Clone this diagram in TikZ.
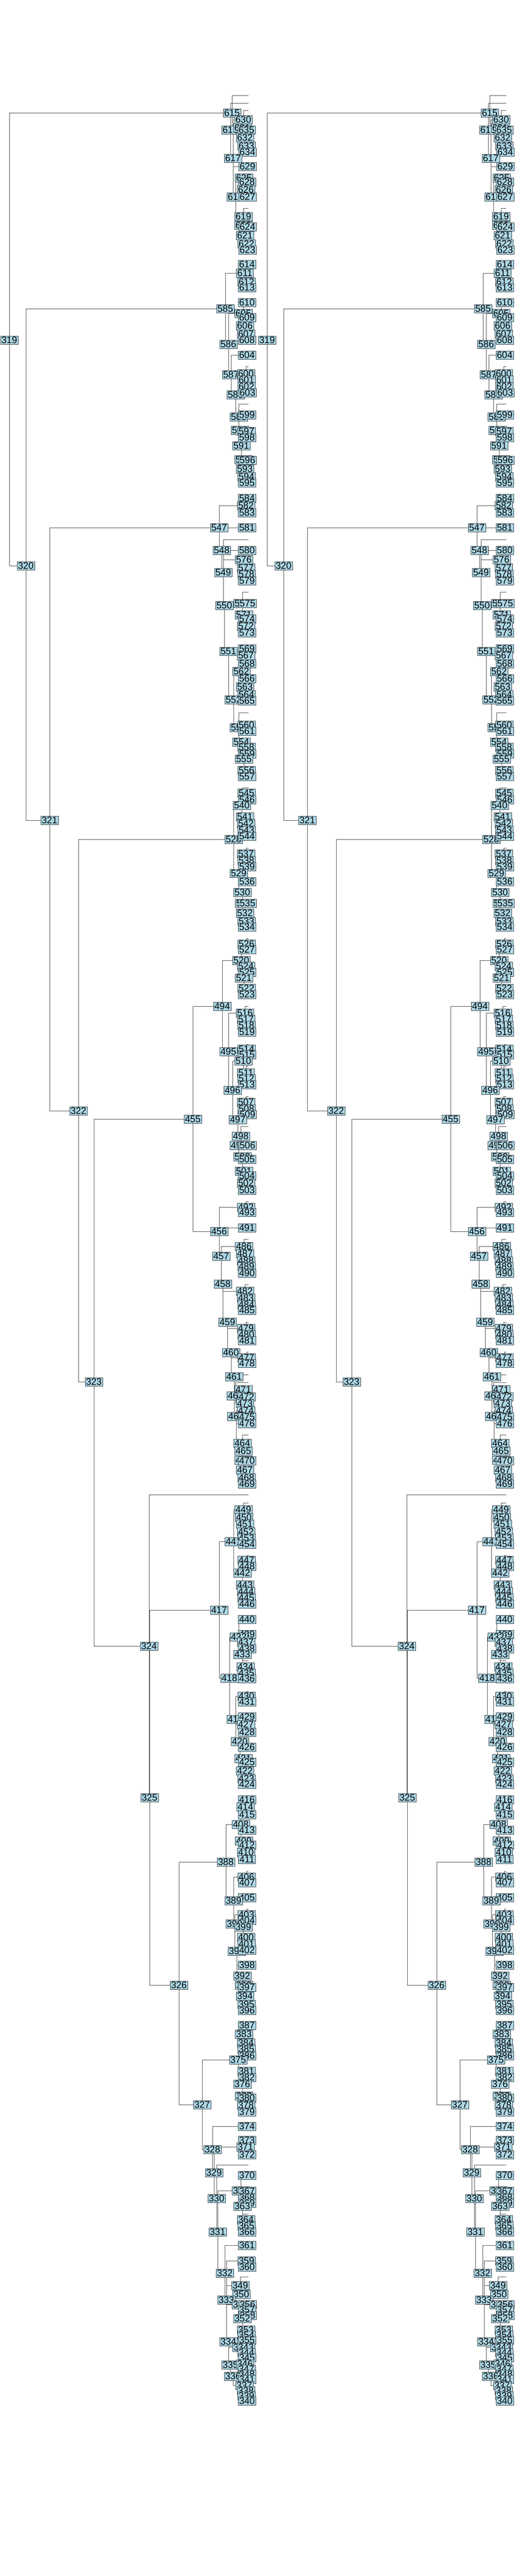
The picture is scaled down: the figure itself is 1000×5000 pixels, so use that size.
\documentclass[tikz,border=0pt]{standalone}
\usepackage{fontspec}
\setmainfont{Liberation Sans}
\usepackage{tikz}
\definecolor{boxblue}{RGB}{173,216,230}
\definecolor{boxline}{RGB}{62,72,78}
\definecolor{linegray}{RGB}{88,88,88}
\tikzstyle{num}=[rectangle,draw=boxline,fill=boxblue,line width=0.8pt,
inner xsep=2.5pt,inner ysep=2pt,text height=19pt,text depth=0pt,
font=\fontsize{26}{26}\selectfont]
\tikzstyle{link}=[draw=linegray,line width=1.3pt,
to path={(\tikztostart) |- (\tikztotarget)}]
\pgfdeclarelayer{bg}
\pgfsetlayers{bg,main}

\newcommand{\treepart}[1]{%
            % SPINE PART
            \node[num] (#1319) at (18,660) {319};
            \node[num] (#1320) at (50,1098) {320};
            \node[num] (#1321) at (96,1592) {321};
            \node[num] (#1322) at (152,2156) {322};
            \node[num] (#1323) at (182,2682) {323};
            \node[num] (#1324) at (289,3195) {324};
            \node[num] (#1325) at (290,3489) {325};
            \node[num] (#1326) at (347,3853) {326};
            \node[num] (#1327) at (392,4085) {327};

            % 615 PART
            \coordinate (#1c01) at (482,185);
            \coordinate (#1c02) at (482,200);
            \coordinate (#1c03) at (482,214);
            \coordinate (#1c04) at (482,404);
            \node[num] (#1615) at (450,219) {615};
            \node[num] (#1616) at (447,252) {616};
            \node[num] (#1630) at (472,232) {630};
            \node[num] (#1631) at (470,248) {631};
            \node[num] (#1635) at (478,252) {635};
            \node[num] (#1632) at (475,267) {632};
            \node[num] (#1633) at (478,283) {633};
            \node[num] (#1634) at (480,295) {634};
            \node[num] (#1617) at (452,307) {617};
            \node[num] (#1629) at (480,323) {629};
            \node[num] (#1625) at (473,345) {625};
            \node[num] (#1628) at (479,353) {628};
            \node[num] (#1626) at (477,368) {626};
            \node[num] (#1618) at (457,382) {618};
            \node[num] (#1627) at (480,382) {627};
            \node[num] (#1619) at (472,420) {619};
            \node[num] (#1620) at (472,437) {620};
            \node[num] (#1624) at (480,440) {624};
            \node[num] (#1621) at (475,457) {621};
            \node[num] (#1622) at (478,473) {622};
            \node[num] (#1623) at (480,485) {623};

            % 585 PART
            \coordinate (#1c05) at (482,711);
            \coordinate (#1c06) at (482,784);
            \node[num] (#1614) at (479,513) {614};
            \node[num] (#1611) at (475,530) {611};
            \node[num] (#1612) at (478,547) {612};
            \node[num] (#1613) at (479,558) {613};
            \node[num] (#1610) at (479,587) {610};
            \node[num] (#1585) at (437,599) {585};
            \node[num] (#1605) at (472,608) {605};
            \node[num] (#1609) at (479,616) {609};
            \node[num] (#1606) at (475,632) {606};
            \node[num] (#1607) at (477,648) {607};
            \node[num] (#1608) at (479,660) {608};
            \node[num] (#1586) at (443,668) {586};
            \node[num] (#1604) at (479,689) {604};
            \node[num] (#1587) at (448,727) {587};
            \node[num] (#1600) at (477,725) {600};
            \node[num] (#1601) at (478,737) {601};
            \node[num] (#1602) at (478,750) {602};
            \node[num] (#1588) at (457,766) {588};
            \node[num] (#1603) at (480,762) {603};
            \node[num] (#1589) at (463,809) {589};
            \node[num] (#1599) at (479,805) {599};
            \node[num] (#1590) at (465,835) {590};
            \node[num] (#1597) at (478,837) {597};
            \node[num] (#1598) at (479,849) {598};
            \node[num] (#1591) at (468,865) {591};
            \node[num] (#1592) at (472,892) {592};
            \node[num] (#1596) at (480,893) {596};
            \node[num] (#1593) at (475,910) {593};
            \node[num] (#1594) at (478,925) {594};
            \node[num] (#1595) at (479,937) {595};

            % 547 PART
            \coordinate (#1c07) at (482,1047);
            \coordinate (#1c08) at (482,1149);
            \coordinate (#1c09) at (482,1383);
            \node[num] (#1584) at (479,967) {584};
            \node[num] (#1582) at (477,981) {582};
            \node[num] (#1583) at (479,995) {583};
            \node[num] (#1547) at (425,1024) {547};
            \node[num] (#1581) at (479,1024) {581};
            \node[num] (#1548) at (430,1068) {548};
            \node[num] (#1580) at (479,1068) {580};
            \node[num] (#1576) at (473,1086) {576};
            \node[num] (#1577) at (477,1102) {577};
            \node[num] (#1549) at (433,1111) {549};
            \node[num] (#1578) at (478,1114) {578};
            \node[num] (#1579) at (479,1127) {579};
            \node[num] (#1550) at (435,1175) {550};
            \node[num] (#1570) at (470,1171) {570};
            \node[num] (#1575) at (480,1171) {575};
            \node[num] (#1571) at (473,1193) {571};
            \node[num] (#1574) at (479,1201) {574};
            \node[num] (#1572) at (477,1215) {572};
            \node[num] (#1573) at (479,1228) {573};
            \node[num] (#1569) at (479,1259) {569};
            \node[num] (#1551) at (443,1264) {551};
            \node[num] (#1567) at (477,1272) {567};
            \node[num] (#1568) at (479,1288) {568};
            \node[num] (#1562) at (468,1303) {562};
            \node[num] (#1566) at (479,1317) {566};
            \node[num] (#1563) at (475,1333) {563};
            \node[num] (#1564) at (478,1348) {564};
            \node[num] (#1552) at (453,1358) {552};
            \node[num] (#1565) at (479,1360) {565};
            \node[num] (#1553) at (463,1412) {553};
            \node[num] (#1560) at (478,1407) {560};
            \node[num] (#1561) at (479,1419) {561};
            \node[num] (#1554) at (468,1440) {554};
            \node[num] (#1558) at (478,1450) {558};
            \node[num] (#1559) at (479,1463) {559};
            \node[num] (#1555) at (473,1473) {555};
            \node[num] (#1556) at (478,1495) {556};
            \node[num] (#1557) at (479,1507) {557};

            % 528 PART
            \coordinate (#1c10) at (482,1529);
            \coordinate (#1c11) at (482,1646);
            \node[num] (#1545) at (478,1539) {545};
            \node[num] (#1546) at (479,1552) {546};
            \node[num] (#1540) at (469,1563) {540};
            \node[num] (#1541) at (475,1585) {541};
            \node[num] (#1542) at (477,1598) {542};
            \node[num] (#1543) at (478,1611) {543};
            \node[num] (#1528) at (453,1629) {528};
            \node[num] (#1544) at (479,1623) {544};
            \node[num] (#1537) at (477,1657) {537};
            \node[num] (#1538) at (478,1670) {538};
            \node[num] (#1539) at (479,1682) {539};
            \node[num] (#1529) at (463,1695) {529};
            \node[num] (#1536) at (479,1711) {536};
            \node[num] (#1530) at (470,1732) {530};
            \node[num] (#1531) at (473,1753) {531};
            \node[num] (#1535) at (480,1753) {535};
            \node[num] (#1532) at (475,1772) {532};
            \node[num] (#1533) at (478,1788) {533};
            \node[num] (#1534) at (479,1799) {534};

            % 455 PART
            \coordinate (#1c12) at (482,1821);
            \coordinate (#1c13) at (482,1953);
            \coordinate (#1c14) at (482,2027);
            \coordinate (#1c15) at (482,2069);
            \coordinate (#1c16) at (482,2128);
            \coordinate (#1c17) at (482,2186);
            \node[num] (#1526) at (478,1832) {526};
            \node[num] (#1527) at (479,1843) {527};
            \node[num] (#1520) at (468,1864) {520};
            \node[num] (#1524) at (477,1875) {524};
            \node[num] (#1525) at (479,1887) {525};
            \node[num] (#1521) at (473,1898) {521};
            \node[num] (#1522) at (478,1918) {522};
            \node[num] (#1523) at (479,1930) {523};
            \node[num] (#1494) at (431,1953) {494};
            \node[num] (#1516) at (475,1966) {516};
            \node[num] (#1517) at (477,1978) {517};
            \node[num] (#1518) at (478,1990) {518};
            \node[num] (#1519) at (479,2003) {519};
            \node[num] (#1495) at (443,2041) {495};
            \node[num] (#1514) at (478,2036) {514};
            \node[num] (#1515) at (479,2047) {515};
            \node[num] (#1510) at (472,2059) {510};
            \node[num] (#1511) at (477,2082) {511};
            \node[num] (#1512) at (478,2093) {512};
            \node[num] (#1513) at (479,2105) {513};
            \node[num] (#1496) at (451,2116) {496};
            \node[num] (#1507) at (477,2139) {507};
            \node[num] (#1508) at (478,2152) {508};
            \node[num] (#1509) at (480,2163) {509};
            \node[num] (#1455) at (374,2172) {455};
            \node[num] (#1497) at (461,2173) {497};
            \node[num] (#1498) at (467,2205) {498};
            \node[num] (#1499) at (463,2223) {499};
            \node[num] (#1506) at (480,2223) {506};
            \node[num] (#1500) at (470,2245) {500};
            \node[num] (#1505) at (479,2250) {505};
            \node[num] (#1501) at (473,2273) {501};
            \node[num] (#1504) at (479,2282) {504};
            \node[num] (#1502) at (477,2296) {502};
            \node[num] (#1503) at (479,2310) {503};

            % 456 PART
            \coordinate (#1c18) at (482,2332);
            \coordinate (#1c19) at (482,2405);
            \coordinate (#1c20) at (482,2493);
            \coordinate (#1c21) at (482,2566);
            \coordinate (#1c22) at (482,2624);
            \coordinate (#1c23) at (482,2668);
            \coordinate (#1c24) at (482,2683);
            \coordinate (#1c25) at (482,2785);
            \node[num] (#1492) at (477,2343) {492};
            \node[num] (#1493) at (479,2353) {493};
            \node[num] (#1491) at (479,2383) {491};
            \node[num] (#1456) at (425,2390) {456};
            \node[num] (#1486) at (473,2419) {486};
            \node[num] (#1487) at (475,2433) {487};
            \node[num] (#1457) at (429,2438) {457};
            \node[num] (#1488) at (477,2447) {488};
            \node[num] (#1489) at (478,2458) {489};
            \node[num] (#1490) at (479,2471) {490};
            \node[num] (#1458) at (432,2492) {458};
            \node[num] (#1482) at (475,2506) {482};
            \node[num] (#1483) at (477,2519) {483};
            \node[num] (#1484) at (478,2532) {484};
            \node[num] (#1485) at (479,2543) {485};
            \node[num] (#1459) at (441,2566) {459};
            \node[num] (#1479) at (477,2578) {479};
            \node[num] (#1480) at (478,2590) {480};
            \node[num] (#1481) at (479,2602) {481};
            \node[num] (#1460) at (448,2625) {460};
            \node[num] (#1477) at (478,2635) {477};
            \node[num] (#1478) at (479,2646) {478};
            \node[num] (#1461) at (454,2672) {461};
            \node[num] (#1471) at (472,2697) {471};
            \node[num] (#1462) at (457,2709) {462};
            \node[num] (#1472) at (478,2711) {472};
            \node[num] (#1473) at (475,2724) {473};
            \node[num] (#1474) at (477,2738) {474};
            \node[num] (#1463) at (458,2749) {463};
            \node[num] (#1475) at (479,2750) {475};
            \node[num] (#1476) at (479,2763) {476};
            \node[num] (#1464) at (470,2801) {464};
            \node[num] (#1465) at (472,2816) {465};
            \node[num] (#1466) at (472,2834) {466};
            \node[num] (#1470) at (479,2835) {470};
            \node[num] (#1467) at (475,2853) {467};
            \node[num] (#1468) at (478,2868) {468};
            \node[num] (#1469) at (479,2880) {469};

            % 417 PART
            \coordinate (#1c26) at (482,2901);
            \coordinate (#1c27) at (482,2917);
            \coordinate (#1c28) at (482,3019);
            \coordinate (#1c29) at (482,3223);
            \coordinate (#1c30) at (482,3283);
            \node[num] (#1449) at (472,2930) {449};
            \node[num] (#1450) at (473,2945) {450};
            \node[num] (#1451) at (475,2958) {451};
            \node[num] (#1452) at (477,2973) {452};
            \node[num] (#1453) at (478,2985) {453};
            \node[num] (#1441) at (453,2992) {441};
            \node[num] (#1454) at (479,2997) {454};
            \node[num] (#1447) at (478,3028) {447};
            \node[num] (#1448) at (479,3040) {448};
            \node[num] (#1442) at (470,3053) {442};
            \node[num] (#1443) at (475,3076) {443};
            \node[num] (#1444) at (477,3089) {444};
            \node[num] (#1445) at (478,3101) {445};
            \node[num] (#1446) at (479,3113) {446};
            \node[num] (#1417) at (425,3125) {417};
            \node[num] (#1440) at (479,3143) {440};
            \node[num] (#1439) at (479,3172) {439};
            \node[num] (#1432) at (463,3177) {432};
            \node[num] (#1437) at (477,3187) {437};
            \node[num] (#1438) at (479,3200) {438};
            \node[num] (#1433) at (470,3211) {433};
            \node[num] (#1434) at (476,3235) {434};
            \node[num] (#1435) at (478,3247) {435};
            \node[num] (#1418) at (445,3257) {418};
            \node[num] (#1436) at (479,3258) {436};
            \node[num] (#1430) at (478,3292) {430};
            \node[num] (#1431) at (479,3303) {431};
            \node[num] (#1419) at (457,3337) {419};
            \node[num] (#1429) at (479,3332) {429};
            \node[num] (#1427) at (477,3347) {427};
            \node[num] (#1428) at (479,3362) {428};
            \node[num] (#1420) at (465,3380) {420};
            \node[num] (#1426) at (479,3391) {426};
            \node[num] (#1421) at (472,3413) {421};
            \node[num] (#1425) at (479,3420) {425};
            \node[num] (#1422) at (475,3437) {422};
            \node[num] (#1423) at (478,3452) {423};
            \node[num] (#1424) at (479,3463) {424};

            % 388 PART
            \coordinate (#1c31) at (482,3632);
            \coordinate (#1c32) at (482,3705);
            \node[num] (#1416) at (479,3493) {416};
            \node[num] (#1414) at (476,3507) {414};
            \node[num] (#1415) at (479,3522) {415};
            \node[num] (#1408) at (467,3541) {408};
            \node[num] (#1413) at (479,3552) {413};
            \node[num] (#1409) at (473,3573) {409};
            \node[num] (#1412) at (479,3581) {412};
            \node[num] (#1410) at (477,3595) {410};
            \node[num] (#1411) at (479,3609) {411};
            \node[num] (#1388) at (438,3614) {388};
            \node[num] (#1406) at (478,3643) {406};
            \node[num] (#1407) at (479,3654) {407};
            \node[num] (#1405) at (479,3683) {405};
            \node[num] (#1389) at (453,3689) {389};
            \node[num] (#1403) at (478,3716) {403};
            \node[num] (#1404) at (479,3727) {404};
            \node[num] (#1390) at (455,3734) {390};
            \node[num] (#1399) at (472,3740) {399};
            \node[num] (#1400) at (477,3760) {400};
            \node[num] (#1401) at (478,3773) {401};
            \node[num] (#1391) at (459,3787) {391};
            \node[num] (#1402) at (479,3785) {402};
            \node[num] (#1398) at (479,3814) {398};
            \node[num] (#1392) at (470,3835) {392};
            \node[num] (#1393) at (473,3853) {393};
            \node[num] (#1397) at (479,3857) {397};
            \node[num] (#1394) at (475,3874) {394};
            \node[num] (#1395) at (478,3890) {395};
            \node[num] (#1396) at (479,3902) {396};

            % 375 PART
            \coordinate (#1c33) at (482,4012);
            \node[num] (#1387) at (479,3931) {387};
            \node[num] (#1383) at (473,3948) {383};
            \node[num] (#1384) at (477,3965) {384};
            \node[num] (#1385) at (478,3977) {385};
            \node[num] (#1386) at (479,3990) {386};
            \node[num] (#1375) at (462,3998) {375};
            \node[num] (#1381) at (478,4020) {381};
            \node[num] (#1382) at (479,4032) {382};
            \node[num] (#1376) at (470,4045) {376};
            \node[num] (#1377) at (473,4068) {377};
            \node[num] (#1380) at (479,4072) {380};
            \node[num] (#1378) at (477,4086) {378};
            \node[num] (#1379) at (479,4099) {379};

            % 328 PART
            \coordinate (#1c34) at (482,4202);
            \coordinate (#1c35) at (482,4297);
            \coordinate (#1c36) at (482,4419);
            \coordinate (#1c37) at (482,4516);
            \coordinate (#1c38) at (482,4546);
            \node[num] (#1374) at (479,4127) {374};
            \node[num] (#1373) at (479,4154) {373};
            \node[num] (#1371) at (476,4167) {371};
            \node[num] (#1328) at (412,4172) {328};
            \node[num] (#1372) at (479,4182) {372};
            \node[num] (#1329) at (415,4217) {329};
            \node[num] (#1370) at (479,4222) {370};
            \node[num] (#1362) at (467,4252) {362};
            \node[num] (#1367) at (479,4253) {367};
            \node[num] (#1330) at (420,4267) {330};
            \node[num] (#1368) at (479,4265) {368};
            \node[num] (#1369) at (479,4276) {369};
            \node[num] (#1363) at (470,4282) {363};
            \node[num] (#1364) at (477,4308) {364};
            \node[num] (#1365) at (478,4320) {365};
            \node[num] (#1331) at (422,4332) {331};
            \node[num] (#1366) at (479,4332) {366};
            \node[num] (#1361) at (479,4358) {361};
            \node[num] (#1359) at (478,4388) {359};
            \node[num] (#1360) at (479,4400) {360};
            \node[num] (#1332) at (436,4412) {332};
            \node[num] (#1349) at (466,4436) {349};
            \node[num] (#1350) at (468,4453) {350};
            \node[num] (#1333) at (439,4464) {333};
            \node[num] (#1351) at (467,4473) {351};
            \node[num] (#1356) at (480,4473) {356};
            \node[num] (#1357) at (479,4483) {357};
            \node[num] (#1358) at (480,4494) {358};
            \node[num] (#1352) at (470,4500) {352};
            \node[num] (#1353) at (477,4522) {353};
            \node[num] (#1354) at (478,4532) {354};
            \node[num] (#1355) at (479,4542) {355};
            \node[num] (#1334) at (443,4545) {334};
            \node[num] (#1342) at (468,4556) {342};
            \node[num] (#1343) at (477,4556) {343};
            \node[num] (#1344) at (478,4566) {344};
            \node[num] (#1345) at (479,4576) {345};
            \node[num] (#1335) at (447,4590) {335};
            \node[num] (#1346) at (475,4588) {346};
            \node[num] (#1347) at (478,4598) {347};
            \node[num] (#1348) at (479,4608) {348};
            \node[num] (#1336) at (452,4612) {336};
            \node[num] (#1341) at (479,4618) {341};
            \node[num] (#1337) at (474,4630) {337};
            \node[num] (#1338) at (477,4640) {338};
            \node[num] (#1339) at (478,4650) {339};
            \node[num] (#1340) at (479,4660) {340};

            % Connections
            \begin{pgfonlayer}{bg}
            \path[link] (#1319) edge (#1615) edge (#1320);
            \path[link] (#1320) edge (#1585) edge (#1321);
            \path[link] (#1321) edge (#1547) edge (#1322);
            \path[link] (#1322) edge (#1528) edge (#1323);
            \path[link] (#1323) edge (#1455) edge (#1324);
            \path[link] (#1324) edge (#1c26) edge (#1325);
            \path[link] (#1325) edge (#1417) edge (#1326);
            \path[link] (#1326) edge (#1388) edge (#1327);
            \path[link] (#1327) edge (#1375) edge (#1328);

            \path[link] (#1615) edge (#1c01) edge (#1616);
            \path[link] (#1616) edge (#1c02) edge (#1617);
            \path[link] (#1630) edge (#1c03) edge (#1631);
            \path[link] (#1631) edge (#1635) edge (#1632);
            \path[link] (#1632) edge (#1633) edge (#1634);
            \path[link] (#1617) edge (#1630) edge (#1629) edge (#1618);
            \path[link] (#1625) edge (#1628) edge (#1626);
            \path[link] (#1626) edge (#1627);
            \path[link] (#1618) edge (#1625) edge (#1619);
            \path[link] (#1619) edge (#1c04) edge (#1620);
            \path[link] (#1620) edge (#1624) edge (#1621);
            \path[link] (#1621) edge (#1622) edge (#1623);

            \path[link] (#1585) edge (#1611) edge (#1586);
            \path[link] (#1611) edge (#1614) edge (#1612);
            \path[link] (#1612) edge (#1613);
            \path[link] (#1586) edge (#1605) edge (#1587);
            \path[link] (#1605) edge (#1610) edge (#1609) edge (#1606);
            \path[link] (#1606) edge (#1607) edge (#1608);
            \path[link] (#1587) edge (#1604) edge (#1600) edge (#1588);
            \path[link] (#1600) edge (#1c05) edge (#1601) edge (#1602);
            \path[link] (#1602) edge (#1603);
            \path[link] (#1588) edge (#1589);
            \path[link] (#1589) edge (#1c06) edge (#1599) edge (#1590);
            \path[link] (#1590) edge (#1597) edge (#1598) edge (#1591);
            \path[link] (#1591) edge (#1592);
            \path[link] (#1592) edge (#1596) edge (#1593);
            \path[link] (#1593) edge (#1594) edge (#1595);

            \path[link] (#1547) edge (#1582) edge (#1581) edge (#1548);
            \path[link] (#1582) edge (#1584) edge (#1583);
            \path[link] (#1548) edge (#1580) edge (#1549);
            \path[link] (#1549) edge (#1c07) edge (#1576) edge (#1550);
            \path[link] (#1576) edge (#1577) edge (#1578) edge (#1579);
            \path[link] (#1550) edge (#1570) edge (#1551);
            \path[link] (#1570) edge (#1c08) edge (#1575) edge (#1571);
            \path[link] (#1571) edge (#1574) edge (#1572);
            \path[link] (#1572) edge (#1573);
            \path[link] (#1551) edge (#1567) edge (#1552);
            \path[link] (#1567) edge (#1569) edge (#1568);
            \path[link] (#1552) edge (#1562) edge (#1553);
            \path[link] (#1562) edge (#1566) edge (#1563);
            \path[link] (#1563) edge (#1564) edge (#1565);
            \path[link] (#1553) edge (#1c09) edge (#1560) edge (#1554);
            \path[link] (#1560) edge (#1561);
            \path[link] (#1554) edge (#1558) edge (#1555);
            \path[link] (#1558) edge (#1559);
            \path[link] (#1555) edge (#1556) edge (#1557);

            \path[link] (#1528) edge (#1540) edge (#1529);
            \path[link] (#1540) edge (#1c10) edge (#1545) edge (#1541);
            \path[link] (#1545) edge (#1546);
            \path[link] (#1541) edge (#1542) edge (#1543) edge (#1544);
            \path[link] (#1529) edge (#1537) edge (#1536) edge (#1530);
            \path[link] (#1537) edge (#1c11) edge (#1538) edge (#1539);
            \path[link] (#1530) edge (#1531) edge (#1532);
            \path[link] (#1531) edge (#1535);
            \path[link] (#1532) edge (#1533) edge (#1534);

            \path[link] (#1455) edge (#1494) edge (#1456);
            \path[link] (#1494) edge (#1520) edge (#1495);
            \path[link] (#1520) edge (#1526) edge (#1524) edge (#1521);
            \path[link] (#1526) edge (#1c12) edge (#1527);
            \path[link] (#1524) edge (#1525);
            \path[link] (#1521) edge (#1522) edge (#1523);
            \path[link] (#1495) edge (#1516) edge (#1496);
            \path[link] (#1516) edge (#1c13) edge (#1517) edge (#1518) edge (#1519);
            \path[link] (#1496) edge (#1510) edge (#1497);
            \path[link] (#1510) edge (#1514) edge (#1511);
            \path[link] (#1514) edge (#1c14) edge (#1515);
            \path[link] (#1511) edge (#1c15) edge (#1512) edge (#1513);
            \path[link] (#1497) edge (#1507) edge (#1498);
            \path[link] (#1507) edge (#1c16) edge (#1508) edge (#1509);
            \path[link] (#1498) edge (#1c17) edge (#1499);
            \path[link] (#1499) edge (#1506) edge (#1500);
            \path[link] (#1500) edge (#1505) edge (#1501);
            \path[link] (#1501) edge (#1504) edge (#1502);
            \path[link] (#1502) edge (#1503);

            \path[link] (#1456) edge (#1492) edge (#1491) edge (#1457);
            \path[link] (#1492) edge (#1c18) edge (#1493);
            \path[link] (#1457) edge (#1486) edge (#1458);
            \path[link] (#1486) edge (#1c19) edge (#1487) edge (#1488) edge (#1489) edge (#1490);
            \path[link] (#1458) edge (#1482) edge (#1459);
            \path[link] (#1482) edge (#1c20) edge (#1483) edge (#1484) edge (#1485);
            \path[link] (#1459) edge (#1479) edge (#1460);
            \path[link] (#1479) edge (#1c21) edge (#1480) edge (#1481);
            \path[link] (#1460) edge (#1477) edge (#1461);
            \path[link] (#1477) edge (#1c22) edge (#1478);
            \path[link] (#1461) edge (#1c23) edge (#1462) edge (#1463);
            \path[link] (#1462) edge (#1c24) edge (#1471) edge (#1472) edge (#1473);
            \path[link] (#1463) edge (#1474) edge (#1475) edge (#1476) edge (#1464);
            \path[link] (#1464) edge (#1c25) edge (#1465) edge (#1466);
            \path[link] (#1466) edge (#1470) edge (#1467);
            \path[link] (#1467) edge (#1468) edge (#1469);

            \path[link] (#1417) edge (#1441) edge (#1418);
            \path[link] (#1441) edge (#1449) edge (#1442);
            \path[link] (#1449) edge (#1c27) edge (#1450) edge (#1451) edge (#1452) edge (#1453) edge (#1454);
            \path[link] (#1442) edge (#1447) edge (#1443);
            \path[link] (#1447) edge (#1c28) edge (#1448);
            \path[link] (#1443) edge (#1444) edge (#1445) edge (#1446);
            \path[link] (#1418) edge (#1432) edge (#1419);
            \path[link] (#1432) edge (#1440) edge (#1439) edge (#1437) edge (#1433);
            \path[link] (#1437) edge (#1438);
            \path[link] (#1433) edge (#1c29) edge (#1434) edge (#1435) edge (#1436);
            \path[link] (#1419) edge (#1430) edge (#1429) edge (#1427) edge (#1420);
            \path[link] (#1430) edge (#1c30) edge (#1431);
            \path[link] (#1427) edge (#1428);
            \path[link] (#1420) edge (#1426) edge (#1421);
            \path[link] (#1421) edge (#1425) edge (#1422);
            \path[link] (#1422) edge (#1423) edge (#1424);

            \path[link] (#1388) edge (#1408) edge (#1389);
            \path[link] (#1408) edge (#1416) edge (#1414) edge (#1413) edge (#1409);
            \path[link] (#1414) edge (#1415);
            \path[link] (#1409) edge (#1412) edge (#1410) edge (#1411);
            \path[link] (#1389) edge (#1406) edge (#1405) edge (#1390);
            \path[link] (#1406) edge (#1c31) edge (#1407);
            \path[link] (#1390) edge (#1403) edge (#1399) edge (#1391);
            \path[link] (#1403) edge (#1c32) edge (#1404);
            \path[link] (#1399) edge (#1400) edge (#1401);
            \path[link] (#1391) edge (#1402) edge (#1398) edge (#1392);
            \path[link] (#1392) edge (#1393) edge (#1397) edge (#1394);
            \path[link] (#1394) edge (#1395) edge (#1396);

            \path[link] (#1375) edge (#1387) edge (#1383) edge (#1376);
            \path[link] (#1383) edge (#1384) edge (#1385) edge (#1386);
            \path[link] (#1376) edge (#1381) edge (#1377);
            \path[link] (#1381) edge (#1c33) edge (#1382);
            \path[link] (#1377) edge (#1380) edge (#1378) edge (#1379);

            \path[link] (#1328) edge (#1374) edge (#1329);
            \path[link] (#1329) edge (#1371) edge (#1330);
            \path[link] (#1371) edge (#1373) edge (#1372);
            \path[link] (#1330) edge (#1c34) edge (#1331);
            \path[link] (#1331) edge (#1362) edge (#1332);
            \path[link] (#1362) edge (#1370) edge (#1367) edge (#1363);
            \path[link] (#1367) edge (#1368) edge (#1369);
            \path[link] (#1363) edge (#1c35) edge (#1364) edge (#1365) edge (#1366);
            \path[link] (#1332) edge (#1361) edge (#1333);
            \path[link] (#1333) edge (#1359) edge (#1349) edge (#1351) edge (#1334);
            \path[link] (#1359) edge (#1360);
            \path[link] (#1349) edge (#1c36) edge (#1350);
            \path[link] (#1351) edge (#1356) edge (#1357) edge (#1352);
            \path[link] (#1352) edge (#1358) edge (#1353);
            \path[link] (#1353) edge (#1c37) edge (#1354) edge (#1355);
            \path[link] (#1334) edge (#1342) edge (#1335);
            \path[link] (#1342) edge (#1c38) edge (#1343) edge (#1344) edge (#1345);
            \path[link] (#1335) edge (#1346) edge (#1336);
            \path[link] (#1346) edge (#1347) edge (#1348);
            \path[link] (#1336) edge (#1341) edge (#1337);
            \path[link] (#1337) edge (#1338) edge (#1339) edge (#1340);
            \end{pgfonlayer}
}

\begin{document}
\begin{tikzpicture}[x=0.05cm,y=-0.05cm]
            \useasboundingbox (0,0) rectangle (1000,5000);

            % LEFT TREE
            \treepart{l}

            % RIGHT TREE
            \begin{scope}[shift={(500,0)}]
            \treepart{r}
            \end{scope}
\end{tikzpicture}
\end{document}
